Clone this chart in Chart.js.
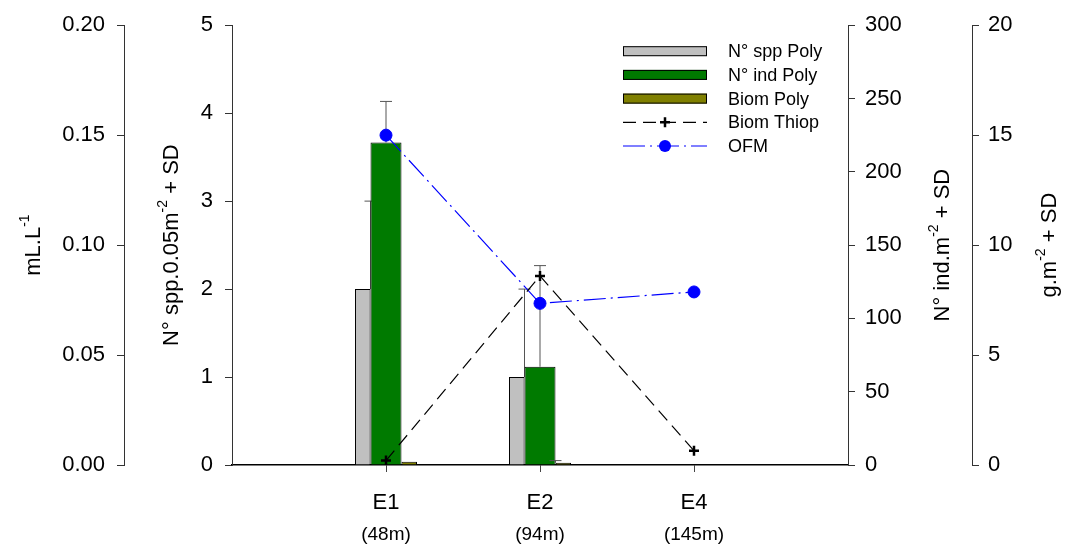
<!DOCTYPE html>
<html>
<head>
<meta charset="utf-8">
<script src="https://cdn.jsdelivr.net/npm/chart.js@4.4.0/dist/chart.umd.min.js"></script>
<style>
html, body { margin: 0; padding: 0; background: #fff; }
#wrap { width: 1065px; height: 544px; }
</style>
</head>
<body>
<div id="wrap"><canvas id="PolyCanvas"></canvas></div>
<script>
// stations (blank slots at both ends keep the stations inside the frame)
var stations = ['', 'E1', 'E2', 'E4', ''];
var depths = ['', '(48m)', '(94m)', '(145m)', ''];

var sppPoly = [null, 2.0, 1.0, null, null];
var sppPolySD = [null, 1.0, 1.0, null, null];
var indPoly = [null, 220, 67, null, null];
var indPolySD = [null, 28, 69, null, null];
var biomPoly = [null, 0.15, 0.1, null, null];
var biomPolySD = [null, null, 0.1, null, null];
var biomThiop = [null, 0.2, 8.6, 0.65, null];
var ofm = [null, 0.150, 0.0735, 0.0787, null];

var FONT = '"Liberation Sans", Arial, sans-serif';

function drawVTitle(ctx, parts, cx, cy, size) {
    ctx.save();
    ctx.translate(cx, cy);
    ctx.rotate(-Math.PI / 2);
    var big = size + 'px ' + FONT;
    var small = Math.round(size * 0.65) + 'px ' + FONT;
    var total = 0;
    parts.forEach(function (p) {
        ctx.font = p.sup ? small : big;
        total += ctx.measureText(p.t).width;
    });
    var x = -total / 2;
    ctx.textBaseline = 'middle';
    ctx.textAlign = 'left';
    ctx.fillStyle = '#000';
    parts.forEach(function (p) {
        ctx.font = p.sup ? small : big;
        ctx.fillText(p.t, x, p.sup ? -size * 0.4 : 0);
        x += ctx.measureText(p.t).width;
    });
    ctx.restore();
}

function drawErr(ctx, x, y0, y1) {
    ctx.save();
    ctx.strokeStyle = '#555';
    ctx.lineWidth = 1;
    ctx.beginPath();
    ctx.moveTo(x, y0);
    ctx.lineTo(x, y1);
    ctx.moveTo(x - 6, y1);
    ctx.lineTo(x + 6, y1);
    ctx.stroke();
    ctx.restore();
}

// error bars: grey under everything, green right after its bars, olive at the end
var errorBars = {
    id: 'errorBars',
    beforeDatasetsDraw: function (chart) {
        var meta = chart.getDatasetMeta(2);
        var ys = chart.scales.ySpp;
        meta.data.forEach(function (bar, i) {
            if (sppPolySD[i] == null || sppPoly[i] == null) return;
            var x = bar.x + bar.width / 2;
            drawErr(chart.ctx, x, ys.getPixelForValue(sppPoly[i]), ys.getPixelForValue(sppPoly[i] + sppPolySD[i]));
        });
    },
    afterDatasetDraw: function (chart, args) {
        if (args.index !== 3) return;
        var ys = chart.scales.yInd;
        args.meta.data.forEach(function (bar, i) {
            if (indPolySD[i] == null || indPoly[i] == null) return;
            drawErr(chart.ctx, bar.x, ys.getPixelForValue(indPoly[i]), ys.getPixelForValue(indPoly[i] + indPolySD[i]));
        });
    },
    afterDatasetsDraw: function (chart) {
        var meta = chart.getDatasetMeta(4);
        var ys = chart.scales.yG;
        meta.data.forEach(function (bar, i) {
            if (biomPolySD[i] == null || biomPoly[i] == null) return;
            var x = bar.x - bar.width / 2;
            drawErr(chart.ctx, x, ys.getPixelForValue(biomPoly[i]), ys.getPixelForValue(biomPoly[i] + biomPolySD[i]));
        });
        // small station ticks under the x axis
        var xs = chart.scales.x;
        var c = chart.ctx;
        c.save();
        c.strokeStyle = '#444';
        c.lineWidth = 1;
        c.beginPath();
        stations.forEach(function (s, i) {
            if (!s) return;
            var px = Math.round(xs.getPixelForValue(i)) + 0.5;
            c.moveTo(px, xs.top);
            c.lineTo(px, xs.top + 7);
        });
        c.stroke();
        c.restore();
    }
};

var axisTitles = {
    id: 'axisTitles',
    afterDraw: function (chart) {
        var ctx = chart.ctx;
        var s = chart.scales;
        var mid = (chart.chartArea.top + chart.chartArea.bottom) / 2;
        drawVTitle(ctx, [{t: 'mL.L'}, {t: '-1', sup: true}], s.yO.right - 90, mid, 22);
        drawVTitle(ctx, [{t: 'N° spp.0.05m'}, {t: '-2', sup: true}, {t: ' + SD'}], s.ySpp.right - 60, mid, 22);
        drawVTitle(ctx, [{t: 'N° ind.m'}, {t: '-2', sup: true}, {t: ' + SD'}], s.yInd.left + 95, mid, 22);
        drawVTitle(ctx, [{t: 'g.m'}, {t: '-2', sup: true}, {t: ' + SD'}], s.yG.left + 78, mid, 22);
    }
};

var boxLegend = {
    id: 'boxLegend',
    afterDraw: function (chart) {
        var ctx = chart.ctx;
        var area = chart.chartArea;
        var x0 = area.left + 391;
        var y0 = area.top + 26;
        var order = [2, 3, 4, 0, 1];
        ctx.save();
        order.forEach(function (di, row) {
            var ds = chart.data.datasets[di];
            var y = y0 + row * 23.7;
            if (ds.type === 'line') {
                ctx.strokeStyle = ds.borderColor;
                ctx.lineWidth = ds.borderWidth;
                ctx.setLineDash(ds.borderDash);
                ctx.beginPath();
                ctx.moveTo(x0, y);
                ctx.lineTo(x0 + 84, y);
                ctx.stroke();
                ctx.setLineDash([]);
                var mx = x0 + 42;
                if (ds.pointStyle === 'cross') {
                    ctx.lineWidth = ds.pointBorderWidth;
                    ctx.beginPath();
                    ctx.moveTo(mx - ds.pointRadius, y);
                    ctx.lineTo(mx + ds.pointRadius, y);
                    ctx.moveTo(mx, y - ds.pointRadius);
                    ctx.lineTo(mx, y + ds.pointRadius);
                    ctx.stroke();
                } else {
                    ctx.fillStyle = ds.pointBackgroundColor;
                    ctx.beginPath();
                    ctx.arc(mx, y, ds.pointRadius, 0, Math.PI * 2);
                    ctx.fill();
                }
            } else {
                ctx.fillStyle = ds.backgroundColor;
                ctx.fillRect(x0, y - 5, 84, 10);
                ctx.strokeStyle = '#000';
                ctx.lineWidth = 1;
                ctx.strokeRect(x0 + 0.5, y - 4.5, 83, 9);
            }
            ctx.fillStyle = '#000';
            ctx.font = '18px ' + FONT;
            ctx.textAlign = 'left';
            ctx.textBaseline = 'middle';
            ctx.fillText(ds.label, x0 + 105, y + 1);
        });
        ctx.restore();
    }
};

function yAxis(pos, weight, min, max, step, width, pad, fmt) {
    return {
        type: 'linear',
        position: pos,
        weight: weight,
        min: min,
        max: max,
        border: { display: true, color: '#333', width: 1 },
        grid: { drawOnChartArea: false, drawTicks: true, tickLength: 7, color: '#333' },
        ticks: {
            stepSize: step,
            color: '#000',
            padding: pad,
            font: { family: FONT, size: 22 },
            callback: fmt
        },
        afterFit: function (scale) { scale.width = width; }
    };
}

var ctx = document.getElementById('PolyCanvas').getContext('2d');

window.PolyChart = new Chart(ctx, {
    type: 'bar',
    data: {
        labels: stations,
        datasets: [
            {
                type: 'line',
                label: 'Biom Thiop',
                data: biomThiop,
                yAxisID: 'yG',
                borderColor: '#000',
                borderWidth: 1.2,
                borderDash: [13, 7],
                pointStyle: 'cross',
                pointRadius: 5,
                pointBorderWidth: 2.5,
                pointBorderColor: '#000',
                pointBackgroundColor: '#000',
                fill: false
            },
            {
                type: 'line',
                label: 'OFM',
                data: ofm,
                yAxisID: 'yO',
                borderColor: '#0000ff',
                borderWidth: 1.2,
                borderDash: [22, 5, 2, 5],
                pointStyle: 'circle',
                pointRadius: 6,
                pointBorderWidth: 1,
                pointBorderColor: '#0000ff',
                pointBackgroundColor: '#0000ff',
                fill: false
            },
            {
                label: 'N° spp Poly',
                data: sppPoly,
                yAxisID: 'ySpp',
                backgroundColor: '#c0c0c0',
                borderColor: '#000',
                borderWidth: 1,
                categoryPercentage: 0.453,
                barPercentage: 0.667
            },
            {
                label: 'N° ind Poly',
                data: indPoly,
                yAxisID: 'yInd',
                backgroundColor: '#007a00',
                borderColor: '#000',
                borderWidth: 1,
                categoryPercentage: 0.453,
                barPercentage: 1.333
            },
            {
                label: 'Biom Poly',
                data: biomPoly,
                yAxisID: 'yG',
                backgroundColor: '#808000',
                borderColor: '#000',
                borderWidth: 1,
                categoryPercentage: 0.453,
                barPercentage: 0.667
            }
        ]
    },
    options: {
        responsive: true,
        maintainAspectRatio: false,
        animation: false,
        layout: { padding: { top: 24, left: 0, right: 0, bottom: 0 } },
        plugins: {
            legend: { display: false },
            tooltip: { enabled: false }
        },
        scales: {
            x: {
                type: 'category',
                position: 'bottom',
                weight: 1,
                offset: false,
                border: { display: true, color: '#000', width: 1.5 },
                grid: { display: false, drawTicks: false },
                ticks: {
                    color: '#000',
                    padding: 25,
                    autoSkip: false,
                    maxRotation: 0,
                    font: { family: FONT, size: 22 }
                },
                afterFit: function (scale) { scale.height = 50; }
            },
            x2: {
                type: 'category',
                labels: depths,
                position: 'bottom',
                weight: 2,
                offset: false,
                border: { display: false },
                grid: { display: false, drawTicks: false },
                ticks: {
                    color: '#000',
                    padding: 8,
                    autoSkip: false,
                    maxRotation: 0,
                    font: { family: FONT, size: 19 }
                },
                afterFit: function (scale) { scale.height = 29; }
            },
            yO: yAxis('left', 2, 0, 0.2, 0.05, 124, 12, function (v) { return v.toFixed(2); }),
            ySpp: yAxis('left', 1, 0, 5, 1, 108, 12, function (v) { return v; }),
            yInd: yAxis('right', 1, 0, 300, 50, 124, 10, function (v) { return v; }),
            yG: yAxis('right', 2, 0, 20, 5, 93, 9, function (v) { return v; })
        }
    },
    plugins: [errorBars, axisTitles, boxLegend]
});
</script>
</body>
</html>
